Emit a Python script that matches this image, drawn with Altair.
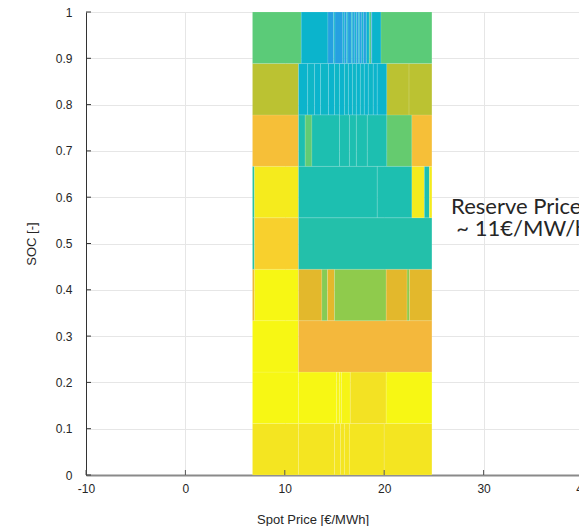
import altair as alt
import pandas as pd

# SOC row edges (9 rows)
soc_edges = [i / 9 for i in range(10)]

# price edges and colour values per SOC row (bottom -> top)
row1_edges = [6.75, 11.38, 15.0, 15.6, 16.0, 16.5, 20.0, 24.8]
row1_vals = [0.94, 0.94, 0.94, 0.94, 0.94, 0.94, 0.94]

row2_edges = [6.75, 11.38, 15.2, 15.5, 15.7, 16.59, 20.2, 24.8]
row2_vals = [1.0, 1.0, 0.99, 1.0, 0.99, 0.93, 1.0]

row3_edges = [6.75, 11.38, 24.8]
row3_vals = [1.0, 0.82]

row4_edges = [6.75, 6.95, 11.38, 13.73, 14.3, 15.0, 20.2, 22.3, 22.55, 24.8]
row4_vals = [0.80, 1.0, 0.76, 0.60, 0.76, 0.62, 0.76, 0.62, 0.76]

row5_edges = [6.75, 6.95, 11.38, 24.8]
row5_vals = [0.44, 0.89, 0.43]

row6_edges = [6.75, 6.95, 11.38, 19.3, 22.79, 24.04, 24.55, 24.8]
row6_vals = [0.44, 0.96, 0.42, 0.42, 0.96, 0.42, 0.96]

row7_edges = [6.75, 11.38, 12.05, 12.73, 15.5, 16.5, 17.2, 18.3, 20.27, 22.79, 24.8]
row7_vals = [0.84, 0.42, 0.53, 0.42, 0.42, 0.42, 0.42, 0.42, 0.54, 0.84]

row8_edges = [6.75, 11.38, 12.3, 13.0, 13.6, 14.4, 15.0, 15.5, 16.0, 16.4, 16.8,
              17.2, 17.6, 18.0, 18.4, 18.9, 19.3, 20.27, 22.5, 24.8]
row8_vals = [0.70, 0.36, 0.37, 0.36, 0.37, 0.36, 0.37, 0.36, 0.37, 0.36, 0.37,
             0.36, 0.37, 0.36, 0.37, 0.36, 0.36, 0.70, 0.70]

row9_edges = [6.75, 11.65, 14.34, 14.9, 15.05, 15.84, 15.98, 16.2, 16.35, 16.7, 16.85,
              17.05, 17.2, 17.4, 17.55, 17.75, 17.9, 18.2, 18.5, 18.7, 18.77, 19.68, 24.8]
row9_vals = [0.52, 0.36, 0.30, 0.36, 0.30, 0.36, 0.30, 0.36, 0.30, 0.36, 0.30,
             0.36, 0.30, 0.36, 0.30, 0.36, 0.30, 0.36, 0.50, 0.30, 0.36, 0.52]

rows_edges = [row1_edges, row2_edges, row3_edges, row4_edges, row5_edges,
              row6_edges, row7_edges, row8_edges, row9_edges]
rows_vals = [row1_vals, row2_vals, row3_vals, row4_vals, row5_vals,
             row6_vals, row7_vals, row8_vals, row9_vals]

x_ticks = [-10, 0, 10, 20, 30, 40]
y_ticks = [round(i * 0.1, 1) for i in range(11)]

annot_text = ["Reserve Price", "~ 11€/MW/h"]
annot_x = [26.73, 27.26]
annot_y = [0.5637, 0.5162]

# colour scale (parula-like)
c_stops = [0.30, 0.36, 0.42, 0.52, 0.62, 0.70, 0.76, 0.82, 0.88, 0.93, 1.00]
c_colors = ["#26A0E0", "#0BB4CC", "#1DBFB0", "#5BCB78", "#8FCB4C", "#BBC232",
            "#E3B82C", "#F4B83C", "#F9CC30", "#F3E223", "#F7F714"]

recs = []
for r, (edges, vals) in enumerate(zip(rows_edges, rows_vals)):
    for i, v in enumerate(vals):
        recs.append({"x0": edges[i], "x1": edges[i + 1],
                     "y0": soc_edges[r], "y1": soc_edges[r + 1], "val": v})
cells = pd.DataFrame(recs)

W, H = 493, 463
XDOM = [-10, 39.6]
xs = alt.Scale(domain=XDOM, nice=False, zero=False)
ys = alt.Scale(domain=[0, 1], nice=False, zero=False)

FONT = "Liberation Sans"
TXT = "#262626"

heat = alt.Chart(cells).mark_rect(stroke="white", strokeOpacity=0.2, strokeWidth=0.6).encode(
    x=alt.X("x0:Q", scale=xs,
            axis=alt.Axis(values=x_ticks, grid=True, gridColor="#E6E6E6", ticks=False,
                          labelExpr="datum.value < 0 ? '-' + abs(datum.value) : '' + datum.value",
                          labelPadding=8, labelFlush=False, labelFont=FONT, labelFontSize=12,
                          labelColor=TXT, domainColor="#8a8a8a", domainWidth=2,
                          title="Spot Price [€/MWh]", titleFont=FONT, titleFontSize=13,
                          titleFontWeight="normal", titleColor=TXT, titleX=226.5, titleY=44,
                          titleAlign="center", titleBaseline="middle")),
    x2="x1:Q",
    y=alt.Y("y0:Q", scale=ys,
            axis=alt.Axis(values=y_ticks, format=".1~f", grid=True, gridColor="#E6E6E6",
                          ticks=False, labelPadding=14, labelFont=FONT, labelFontSize=12,
                          labelColor=TXT, domainColor="#333333", domainWidth=1,
                          title="SOC [-]", titleFont=FONT, titleFontSize=13,
                          titleFontWeight="normal", titleColor=TXT, titleX=-55, titleY=231.5,
                          titleAlign="center", titleBaseline="middle", titleAngle=-90)),
    y2="y1:Q",
    color=alt.Color("val:Q", scale=alt.Scale(domain=c_stops, range=c_colors, interpolate="rgb"),
                    legend=None),
)

yt = alt.Chart(pd.DataFrame({"v": y_ticks})).mark_rule(color="#333333", strokeWidth=1).encode(
    y=alt.Y("v:Q", scale=ys), x=alt.value(0), x2=alt.value(5))

xt = alt.Chart(pd.DataFrame({"v": [t for t in x_ticks if t <= XDOM[1]]})).mark_rule(
    color="#555555", strokeWidth=1).encode(
    x=alt.X("v:Q", scale=xs), y=alt.value(H), y2=alt.value(H - 5))

# tick labels beyond the visible domain edge (cut by the figure border)
extra = [t for t in x_ticks if t > XDOM[1]]
xl_extra = alt.Chart(pd.DataFrame({"v": extra, "t": [str(t) for t in extra]})).mark_text(
    align="center", baseline="top", font=FONT, fontSize=12, color=TXT, dy=9).encode(
    x=alt.X("v:Q", scale=xs), y=alt.value(H), text="t:N")

annot = alt.Chart(pd.DataFrame({"t": annot_text, "x": annot_x, "y": annot_y})).mark_text(
    align="left", baseline="alphabetic", font="Lato", fontSize=22, color=TXT).encode(
    x=alt.X("x:Q", scale=xs), y=alt.Y("y:Q", scale=ys), text="t:N")

chart = alt.layer(heat, yt, xt, xl_extra, annot).properties(
    width=W, height=H,
    autosize=alt.AutoSizeParams(type="none"),
    padding={"left": 86, "top": 12, "right": 0, "bottom": 51},
).configure_view(stroke=None)

chart.save("out.html", embed_options={"renderer": "svg", "actions": False})
